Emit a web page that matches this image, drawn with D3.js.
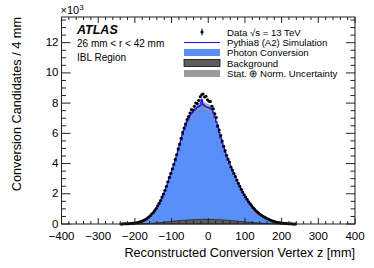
<!DOCTYPE html>
<html>
<head>
<meta charset="utf-8">
<script src="https://cdn.jsdelivr.net/npm/d3@7"></script>
<style>
body { margin: 0; background: #fff; }
text { font-family: "Liberation Sans", Arial, Helvetica, sans-serif; fill: #000; }
</style>
</head>
<body>
<div id="chart"></div>
<script>
// 4 mm bins, first bin starts at -240 mm (values in units of 10^3)
var binStart = -240;
var binWidth = 4;

var dataCounts = [
    0.003, 0.005, 0.012, 0.013, 0.020, 0.022, 0.031, 0.037, 0.046, 0.058,
    0.072, 0.088, 0.115, 0.145, 0.170, 0.220, 0.270, 0.320, 0.390, 0.460,
    0.550, 0.660, 0.760, 0.900, 1.030, 1.200, 1.380, 1.550, 1.780, 1.980,
    2.240, 2.500, 2.800, 3.100, 3.360, 3.660, 3.950, 4.280, 4.600, 4.980,
    5.300, 5.680, 6.050, 6.360, 6.620, 6.920, 7.120, 7.350, 7.580, 7.550,
    7.800, 8.000, 7.980, 8.180, 8.420, 8.550, 8.600, 8.400, 8.450, 8.220,
    8.120, 8.100, 7.800, 7.620, 7.300, 7.050, 6.500, 6.220, 5.850, 5.500,
    5.150, 4.860, 4.550, 4.300, 4.100, 3.780, 3.580, 3.360, 3.140, 2.920,
    2.700, 2.500, 2.300, 2.120, 1.940, 1.780, 1.630, 1.480, 1.350, 1.220,
    1.100, 0.990, 0.880, 0.790, 0.710, 0.630, 0.560, 0.500, 0.440, 0.390,
    0.340, 0.290, 0.250, 0.210, 0.175, 0.145, 0.120, 0.100, 0.080, 0.066,
    0.054, 0.044, 0.034, 0.027, 0.020, 0.015, 0.011, 0.007, 0.004, 0.002
];

var simTotal = [
    0.002, 0.006, 0.010, 0.014, 0.018, 0.023, 0.029, 0.035, 0.045, 0.055,
    0.070, 0.090, 0.110, 0.140, 0.175, 0.210, 0.260, 0.310, 0.380, 0.450,
    0.540, 0.640, 0.740, 0.870, 1.010, 1.170, 1.340, 1.520, 1.730, 1.950,
    2.190, 2.450, 2.740, 3.020, 3.300, 3.590, 3.880, 4.180, 4.520, 4.860,
    5.210, 5.560, 5.920, 6.220, 6.500, 6.760, 6.980, 7.170, 7.300, 7.400,
    7.520, 7.620, 7.720, 7.780, 7.840, 8.220, 7.920, 7.820, 7.760, 7.720,
    7.680, 7.630, 7.550, 7.350, 7.080, 6.760, 6.400, 6.050, 5.700, 5.370,
    5.050, 4.740, 4.450, 4.210, 3.970, 3.740, 3.520, 3.300, 3.080, 2.860,
    2.650, 2.450, 2.250, 2.070, 1.900, 1.740, 1.590, 1.450, 1.320, 1.190,
    1.070, 0.960, 0.860, 0.770, 0.690, 0.620, 0.550, 0.490, 0.430, 0.380,
    0.330, 0.280, 0.240, 0.200, 0.170, 0.140, 0.120, 0.100, 0.080, 0.065,
    0.055, 0.045, 0.035, 0.029, 0.023, 0.018, 0.014, 0.010, 0.006, 0.002
];

var background = [
    0.000, 0.000, 0.000, 0.000, 0.000, 0.000, 0.000, 0.000, 0.000, 0.000,
    0.005, 0.007, 0.009, 0.011, 0.013, 0.016, 0.019, 0.022, 0.027, 0.032,
    0.038, 0.045, 0.052, 0.060, 0.068, 0.076, 0.085, 0.094, 0.104, 0.114,
    0.124, 0.134, 0.145, 0.156, 0.167, 0.178, 0.189, 0.200, 0.209, 0.218,
    0.226, 0.233, 0.240, 0.246, 0.252, 0.258, 0.264, 0.270, 0.276, 0.282,
    0.288, 0.294, 0.300, 0.302, 0.304, 0.306, 0.308, 0.310, 0.308, 0.306,
    0.304, 0.302, 0.300, 0.296, 0.292, 0.288, 0.284, 0.280, 0.274, 0.268,
    0.262, 0.256, 0.250, 0.242, 0.234, 0.226, 0.218, 0.210, 0.200, 0.190,
    0.180, 0.170, 0.160, 0.152, 0.144, 0.136, 0.128, 0.120, 0.112, 0.104,
    0.096, 0.088, 0.080, 0.074, 0.068, 0.062, 0.056, 0.050, 0.046, 0.042,
    0.038, 0.034, 0.030, 0.026, 0.023, 0.020, 0.017, 0.015, 0.012, 0.010,
    0.008, 0.006, 0.005, 0.004, 0.003, 0.002, 0.001, 0.001, 0.000, 0.000
];

var normUnc = 0.03;

var xTicks = [-400, -300, -200, -100, 0, 100, 200, 300, 400];
var yTicks = [0, 2, 4, 6, 8, 10, 12];

var legendLabels = ["Data \u221As = 13 TeV", "Pythia8 (A2) Simulation", "Photon Conversion",
    "Background", "Stat. \u2295 Norm. Uncertainty"];
var infoLines = ["26 mm < r < 42 mm", "IBL Region"];

var width = 374, height = 268;
var plotLeft = 61.5, plotRight = 355, plotTop = 17, plotBottom = 224;

var svg = d3.select("#chart").append("svg")
    .attr("width", width)
    .attr("height", height);

var x = d3.scaleLinear().domain([-400, 400]).range([plotLeft, plotRight]);
var y = d3.scaleLinear().domain([0, 13.7]).range([plotBottom, plotTop]);

// bin edges for step histograms (last bin repeated at closing edge)
var bins = simTotal.map(function(v, i) {
    return {lo: binStart + i * binWidth, total: v, bg: background[i], data: dataCounts[i]};
});
var edges = bins.concat([{lo: binStart + bins.length * binWidth,
    total: simTotal[simTotal.length - 1], bg: background[background.length - 1]}]);

var hist = svg.append("g").attr("class", "hist");

hist.append("path")
    .datum(edges)
    .attr("fill", "#5b8ff8")
    .attr("d", d3.area().curve(d3.curveStepAfter)
        .x(function(d) { return x(d.lo); })
        .y0(y(0))
        .y1(function(d) { return y(d.total); }));

hist.append("path")
    .datum(edges)
    .attr("fill", "#9a9a9a")
    .attr("opacity", 0.85)
    .attr("d", d3.area().curve(d3.curveStepAfter)
        .x(function(d) { return x(d.lo); })
        .y0(function(d) { return y(d.total * (1 - normUnc)); })
        .y1(function(d) { return y(d.total * (1 + normUnc)); }));

hist.append("path")
    .datum(edges)
    .attr("fill", "#5c5c5c")
    .attr("stroke", "#222")
    .attr("stroke-width", 0.8)
    .attr("d", d3.area().curve(d3.curveStepAfter)
        .x(function(d) { return x(d.lo); })
        .y0(y(0))
        .y1(function(d) { return y(d.bg); }));

hist.append("path")
    .datum(edges)
    .attr("fill", "none")
    .attr("stroke", "#1010ff")
    .attr("stroke-width", 1.2)
    .attr("d", d3.line().curve(d3.curveStepAfter)
        .x(function(d) { return x(d.lo); })
        .y(function(d) { return y(d.total); }));

// data points
svg.append("g").attr("class", "data")
    .selectAll("circle")
    .data(bins)
    .enter()
    .append("circle")
    .attr("cx", function(d) { return x(d.lo + binWidth / 2); })
    .attr("cy", function(d) { return y(d.data); })
    .attr("r", 1.5)
    .attr("fill", "#000");

// frame and ticks
var axes = svg.append("g").attr("class", "axes")
    .attr("stroke", "#222").attr("stroke-width", 1);

axes.append("rect")
    .attr("x", plotLeft).attr("y", plotTop)
    .attr("width", plotRight - plotLeft).attr("height", plotBottom - plotTop)
    .attr("fill", "none");

var xMinor = d3.range(-400, 401, 20);
var yMinor = d3.range(0, 13.7, 0.5);

axes.selectAll(".xtick")
    .data(xMinor)
    .enter()
    .append("path")
    .attr("d", function(d) {
        var len = (d % 100 === 0) ? 6 : 3;
        var px = x(d);
        return "M" + px + "," + plotBottom + "v" + (-len) + "M" + px + "," + plotTop + "v" + len;
    });

axes.selectAll(".ytick")
    .data(yMinor)
    .enter()
    .append("path")
    .attr("d", function(d) {
        var len = (d % 2 === 0) ? 9 : 4.5;
        var py = y(d);
        return "M" + plotLeft + "," + py + "h" + len + "M" + plotRight + "," + py + "h" + (-len);
    });

var fmt = d3.format("d");

svg.append("g").selectAll("text")
    .data(xTicks)
    .enter()
    .append("text")
    .attr("x", function(d) { return x(d); })
    .attr("y", plotBottom + 15.5)
    .attr("text-anchor", "middle")
    .style("font-size", "11.5px")
    .text(function(d) { return fmt(d); });

svg.append("g").selectAll("text")
    .data(yTicks)
    .enter()
    .append("text")
    .attr("x", plotLeft - 3)
    .attr("y", function(d) { return y(d) + 3.5; })
    .attr("text-anchor", "end")
    .style("font-size", "11.5px")
    .text(function(d) { return d; });

// x10^3
var mult = svg.append("text").attr("x", plotLeft - 1).attr("y", 14).style("font-size", "11px");
mult.append("tspan").text("\u00d710");
mult.append("tspan").attr("dy", -4).style("font-size", "8px").text("3");

// axis titles
svg.append("text")
    .attr("x", plotRight)
    .attr("y", 257)
    .attr("text-anchor", "end")
    .style("font-size", "12.7px")
    .text("Reconstructed Conversion Vertex z [mm]");

svg.append("text")
    .attr("transform", "translate(21," + plotTop + ") rotate(-90)")
    .attr("text-anchor", "end")
    .style("font-size", "12.7px")
    .text("Conversion Candidates / 4 mm");

// ATLAS label
svg.append("text")
    .attr("x", 77).attr("y", 34)
    .style("font-size", "12.5px")
    .style("font-weight", "bold")
    .style("font-style", "italic")
    .text("ATLAS");

svg.append("g").selectAll("text")
    .data(infoLines)
    .enter()
    .append("text")
    .attr("x", 77)
    .attr("y", function(d, i) { return 47 + i * 13.5; })
    .style("font-size", "10px")
    .text(function(d) { return d; });

// legend
var legendY = [32, 42.5, 52.5, 63, 73.5];
var leg = svg.append("g").attr("class", "legend");

leg.selectAll("text")
    .data(legendLabels)
    .enter()
    .append("text")
    .attr("x", 227)
    .attr("y", function(d, i) { return legendY[i] + 3.5; })
    .style("font-size", "9.6px")
    .text(function(d) { return d; });

leg.append("line")
    .attr("x1", 202).attr("x2", 202)
    .attr("y1", legendY[0] - 3.5).attr("y2", legendY[0] + 3.5)
    .attr("stroke", "#000").attr("stroke-width", 1);
leg.append("circle").attr("cx", 202).attr("cy", legendY[0]).attr("r", 1.6).attr("fill", "#000");

leg.append("line")
    .attr("x1", 184).attr("x2", 220)
    .attr("y1", legendY[1]).attr("y2", legendY[1])
    .attr("stroke", "#1010ff").attr("stroke-width", 1.2);

var boxColors = ["#5b8ff8", "#5c5c5c", "#9a9a9a"];
leg.selectAll(".box")
    .data(boxColors)
    .enter()
    .append("rect")
    .attr("x", 184)
    .attr("y", function(d, i) { return legendY[i + 2] - 3.5; })
    .attr("width", 36)
    .attr("height", 7)
    .attr("fill", function(d) { return d; })
    .attr("stroke", function(d, i) { return i === 1 ? "#111" : "none"; })
    .attr("stroke-width", 0.8);
</script>
</body>
</html>
